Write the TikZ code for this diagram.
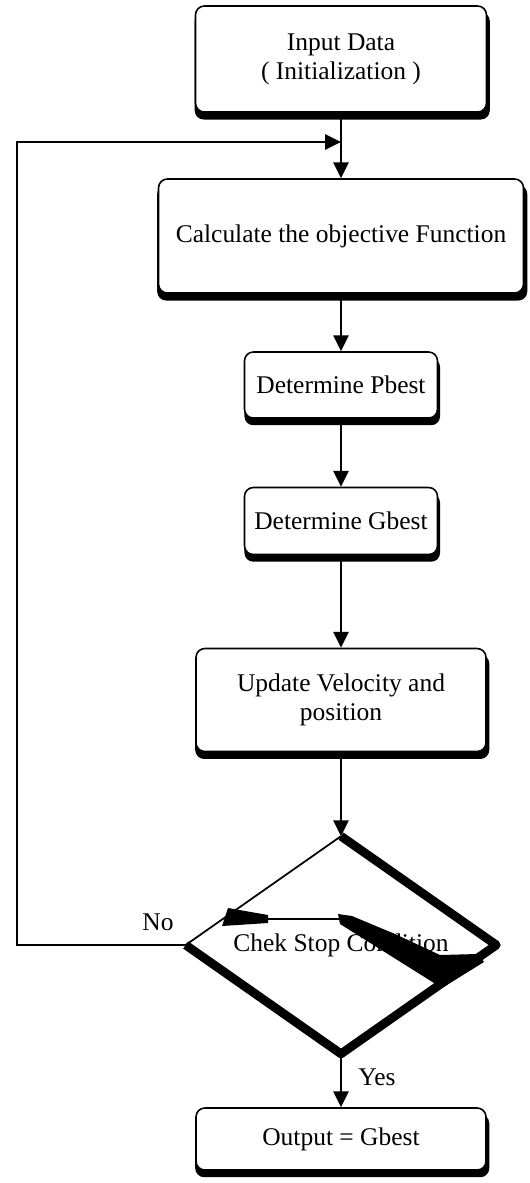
\documentclass[tikz,border=0pt]{standalone}
\usepackage{fontspec}
\setmainfont{Liberation Serif}
\usetikzlibrary{shapes.geometric,shadows,arrows.meta}

\tikzset{
  stepbox/.style={rectangle, rounded corners=5pt, draw, line width=0.9pt,
    fill=white, align=center, inner sep=0pt,
    font=\fontsize{14.5}{16.5}\selectfont,
    drop shadow={opacity=1, fill=black, shadow xshift=0.7pt,
      shadow yshift=-3.8pt, shadow scale=1.014}},
  flow/.style={-{Triangle[length=9pt,width=8.5pt]}, line width=1.5pt},
  lbl/.style={font=\fontsize{14.5}{16.5}\selectfont, inner sep=0pt},
}

\begin{document}
\begin{tikzpicture}[x=0.02cm, y=-0.02cm]
  \useasboundingbox (0,0) rectangle (530,1183);

  % shading marks inside the decision
  \fill (228,908) -- (268,915) -- (268,923) -- (222,926) -- cycle;
  \draw[line width=1pt] (268,919) -- (340,919);
  \fill (338,914) -- (352,916) -- (395,934) -- (440,955) -- (478,954) -- (484,962)
    -- (442,988) -- (340,924) -- cycle;

  % boxes
  \node[stepbox, minimum width=5.82cm, minimum height=2.12cm] (input) at (341,59) {Input Data\\( Initialization )};
  \node[stepbox, minimum width=7.3cm, minimum height=2.28cm] (objf) at (341,236) {Calculate the objective Function};
  \node[stepbox, minimum width=3.86cm, minimum height=1.32cm] (pbest) at (341,385) {Determine Pbest};
  \node[stepbox, minimum width=3.86cm, minimum height=1.34cm] (gbest) at (341,521) {Determine Gbest};
  \node[stepbox, minimum width=5.8cm, minimum height=2.06cm] (update) at (341,700) {Update Velocity and\\position};
  \node[diamond, aspect=1.43, inner sep=0pt, minimum width=6.2cm, minimum height=4.34cm,
    font=\fontsize{14.5}{16.5}\selectfont] (stop) at (341,945) {Chek Stop Condition};
  \node[stepbox, minimum width=5.8cm, minimum height=1.24cm] (output) at (341,1139) {Output = Gbest};

  % decision outline
  \draw[line width=1pt] (stop.north) -- (stop.west);
  \draw[line width=5pt, line join=round] (stop.west) -- (stop.south) -- (stop.east) -- (stop.north);

  % connectors
  \coordinate (merge) at (341,142);
  \coordinate (loopc) at (17,142);
  \draw[line width=1.5pt] (input) -- (merge);
  \draw[flow] (merge) -- (objf);
  \draw[flow] (objf) -- (pbest);
  \draw[flow] (pbest) -- (gbest);
  \draw[flow] (gbest) -- (update);
  \draw[flow] (update) -- (stop.north);
  \draw[flow] (stop.south) -- (output);
  \draw[flow] (stop.west) -| (loopc) -- (merge);

  \node[lbl] (no) at (158,922) {No};
  \node[lbl] (yes) at (377,1077) {Yes};
\end{tikzpicture}
\end{document}
